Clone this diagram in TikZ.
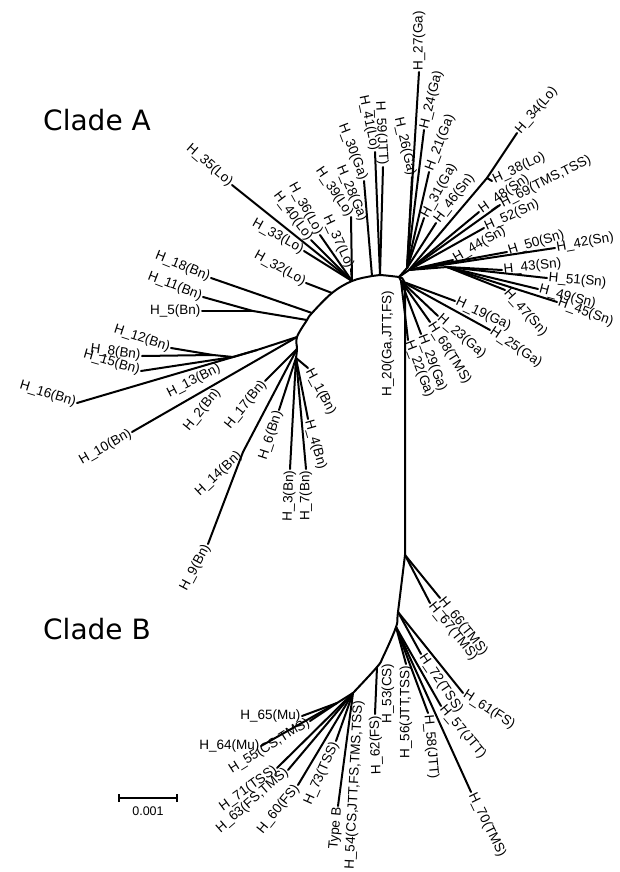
\documentclass[tikz,border=0pt]{standalone}
\usepackage{fontspec}
\setmainfont{Liberation Sans}
\newfontfamily\cladefont{DejaVu Sans}
\tikzset{
  branch/.style={line width=2pt, line cap=round, line join=round},
  leaf/.style={inner sep=1.5pt, font=\fontsize{13.5}{15}\selectfont},
  leafr/.style={leaf, anchor=west},
  leafl/.style={leaf, anchor=east},
  clade/.style={font=\cladefont\fontsize{28}{32}\selectfont},
}
\begin{document}
\begin{tikzpicture}[x=1pt, y=-1pt]
  \useasboundingbox (0,0) rectangle (619,872);
  % Clade names
  \node[clade] (cladeA) at (97,120) {Clade A};
  \node[clade] (cladeB) at (97,629) {Clade B};
  % Junctions, clade A
  \coordinate (r) at (399,277);
  \coordinate (rg) at (407,268);
  \coordinate (rs) at (409,270);
  \coordinate (rs2) at (447,267);
  \coordinate (rlo) at (487,178);
  \coordinate (rd) at (401,281);
  \coordinate (a3) at (380,275);
  \coordinate (a2) at (372,276);
  \coordinate (a1) at (352,281);
  \coordinate (a0) at (332,293);
  \coordinate (b18) at (312,313);
  \coordinate (b1) at (307,320);
  \coordinate (b2) at (297,337);
  \coordinate (b4) at (297,349);
  \coordinate (b5) at (296,358);
  \coordinate (jB1) at (253,311);
  \coordinate (jB3) at (257,350);
  \coordinate (jB3b) at (233,357);
  \coordinate (jB3a) at (213,355);
  \coordinate (jB6) at (243,452);
  % Junctions, clade B
  \coordinate (s1) at (405,290);
  \coordinate (jBa) at (405,555);
  \coordinate (jBb) at (398,612);
  \coordinate (jBc) at (396,627);
  \coordinate (jBd) at (383,657);
  \coordinate (jBg) at (377,667);
  \coordinate (jBe) at (353,693);
  \coordinate (jBf) at (337,703);
  % Leaves, clade A
  \node[leafr, rotate=90] (h27) at (419,72) {H\_27(Ga)};
  \node[leafr, rotate=76] (h24) at (424,130) {H\_24(Ga)};
  \node[leafr, rotate=69] (h21) at (429,172) {H\_21(Ga)};
  \node[leafl, rotate=-77] (h26) at (412,177) {H\_26(Ga)};
  \node[leafr, rotate=61] (h31) at (424,218) {H\_31(Ga)};
  \node[leafr, rotate=53] (h46) at (436,223) {H\_46(Sn)};
  \node[leafr, rotate=49] (h34) at (517,133) {H\_34(Lo)};
  \node[leafr, rotate=25] (h38) at (492,181) {H\_38(Lo)};
  \node[leafr, rotate=35] (h48) at (479,212) {H\_48(Sn)};
  \node[leafr, rotate=27] (h69) at (500,205) {H\_69(TMS,TSS)};
  \node[leafr, rotate=24] (h52) at (484,228) {H\_52(Sn)};
  \node[leafr, rotate=30] (h44) at (453,260) {H\_44(Sn)};
  \node[leafr, rotate=17] (h50) at (507,252) {H\_50(Sn)};
  \node[leafr, rotate=10] (h42) at (555,248) {H\_42(Sn)};
  \node[leafr, rotate=6] (h43) at (502,270) {H\_43(Sn)};
  \node[leafr, rotate=-5] (h51) at (547,278) {H\_51(Sn)};
  \node[leafr, rotate=-15] (h49) at (538,289) {H\_49(Sn)};
  \node[leafr, rotate=-20] (h45) at (557,302) {H\_45(Sn)};
  \node[leafr, rotate=-48] (h47) at (505,290) {H\_47(Sn)};
  \node[leafr, rotate=-25] (h19) at (455,301) {H\_19(Ga)};
  \node[leafr, rotate=-34] (h25) at (490,330) {H\_25(Ga)};
  \node[leafr, rotate=-41] (h23) at (438,316) {H\_23(Ga)};
  \node[leafr, rotate=-58] (h68) at (430,322) {H\_68(TMS)};
  \node[leafr, rotate=-69] (h29) at (421,334) {H\_29(Ga)};
  \node[leafr, rotate=-69] (h22) at (408,340) {H\_22(Ga)};
  \node[leafl, rotate=90] (h20) at (388,289) {H\_20(Ga,JTT,FS)};
  \node[leafl, rotate=-87] (h59) at (383,167) {H\_59(JTT)};
  \node[leafl, rotate=-78] (h41) at (375,152) {H\_41(Lo)};
  \node[leafl, rotate=-69] (h30) at (364,181) {H\_30(Ga)};
  \node[leafl, rotate=-67] (h28) at (364,222) {H\_28(Ga)};
  \node[leafl, rotate=-56] (h39) at (351,217) {H\_39(Lo)};
  \node[leafl, rotate=-65] (h37) at (351,269) {H\_37(Lo)};
  \node[leafl, rotate=-61] (h36) at (320,235) {H\_36(Lo)};
  \node[leafl, rotate=-53] (h40) at (311,240) {H\_40(Lo)};
  \node[leafl, rotate=-41] (h35) at (232,185) {H\_35(Lo)};
  \node[leafl, rotate=-29] (h33) at (304,251) {H\_33(Lo)};
  \node[leafl, rotate=-29] (h32) at (306,283) {H\_32(Lo)};
  \node[leafl, rotate=-22] (h18) at (211,278) {H\_18(Bn)};
  \node[leafl, rotate=-21] (h11) at (203,297) {H\_11(Bn)};
  \node[leafl] (h5) at (202,311) {H\_5(Bn)};
  \node[leafl, rotate=-18] (h12) at (171,348) {H\_12(Bn)};
  \node[leafl, rotate=-8] (h8) at (142,356) {H\_8(Bn)};
  \node[leafl, rotate=-16] (h15) at (141,371) {H\_15(Bn)};
  \node[leafl, rotate=-17] (h16) at (77,403) {H\_16(Bn)};
  \node[leafl, rotate=30] (h10) at (132,432) {H\_10(Bn)};
  \node[leafl, rotate=27] (h13) at (221,367) {H\_13(Bn)};
  \node[leafl, rotate=51] (h2) at (219,389) {H\_2(Bn)};
  \node[leafl, rotate=51] (h17) at (265,381) {H\_17(Bn)};
  \node[leafl, rotate=43] (h14) at (241,453) {H\_14(Bn)};
  \node[leafl, rotate=62] (h9) at (208,544) {H\_9(Bn)};
  \node[leafl, rotate=72] (h6) at (279,410) {H\_6(Bn)};
  \node[leafl, rotate=88] (h3) at (290,469) {H\_3(Bn)};
  \node[leafl, rotate=90] (h7) at (306,469) {H\_7(Bn)};
  \node[leafr, rotate=-74] (h4) at (308,419) {H\_4(Bn)};
  \node[leafr, rotate=-62] (h1) at (308,368) {H\_1(Bn)};
  % Leaves, clade B
  \node[leafr, rotate=-51] (h66) at (440,598) {H\_66(TMS)};
  \node[leafr, rotate=-51] (h67) at (430,603) {H\_67(TMS)};
  \node[leafr, rotate=-56] (h72) at (421,654) {H\_72(TSS)};
  \node[leafr, rotate=-33] (h61) at (463,693) {H\_61(FS)};
  \node[leafl, rotate=90] (h56) at (406,664) {H\_56(JTT,TSS)};
  \node[leafr, rotate=-85] (h58) at (428,713) {H\_58(JTT)};
  \node[leafr, rotate=-50] (h57) at (441,706) {H\_57(JTT)};
  \node[leafr, rotate=-64] (h70) at (471,792) {H\_70(TMS)};
  \node[leafl, rotate=90] (h53) at (388,662) {H\_53(CS)};
  \node[leafl, rotate=92] (h62) at (375,714) {H\_62(FS)};
  \node[leafl, rotate=85] (hB) at (338,806) {Type B};
  \node[leafl, rotate=87] (h54) at (359,699) {H\_54(CS,JTT,FS,TMS,TSS)};
  \node[leafl, rotate=66] (h73) at (336,741) {H\_73(TSS)};
  \node[leafl, rotate=51] (h60) at (298,785) {H\_60(FS)};
  \node[leafl, rotate=41] (h63) at (288,770) {H\_63(FS,TMS)};
  \node[leafl, rotate=36] (h71) at (277,768) {H\_71(TSS)};
  \node[leafl, rotate=32] (h55) at (310,721) {H\_55(CS,TMS)};
  \node[leafl] (h64) at (261,746) {H\_64(Mu)};
  \node[leafl] (h65) at (302,716) {H\_65(Mu)};
  % Backbone
  \draw[branch] plot[smooth, tension=0.6] coordinates {(r) (a3) (a2) (a1) (a0) (b18) (b1) (b2) (b4) (b5)};
  \draw[branch] (r) to[out=0, in=90] (s1) -- (jBa);
  \draw[branch] plot[smooth, tension=0.6] coordinates {(jBa) (jBb) (jBc) (jBd) (jBg) (jBe)};
  \draw[branch] (r) -- (rg);
  \draw[branch] (r) -- (rs) -- (rs2);
  \draw[branch] (r) -- (rd);
  \draw[branch] (rs) -- (rlo);
  \draw[branch] (b1) -- (jB1);
  \draw[branch] (b2) -- (jB3) -- (jB3b) -- (jB3a);
  \draw[branch] (b4) -- (jB6);
  \draw[branch] (jBe) -- (jBf);
  % Branches to leaves
  \foreach \h in {h27,h24,h21,h31,h46} \draw[branch] (rg) -- (\h.west);
  \draw[branch] (rg) -- (h26.east);
  \foreach \h in {h34,h38} \draw[branch] (rlo) -- (\h.west);
  \foreach \h in {h48,h69,h52,h44,h50,h42} \draw[branch] (rs) -- (\h.west);
  \foreach \h in {h43,h51,h49,h45,h47} \draw[branch] (rs2) -- (\h.west);
  \foreach \h in {h19,h25,h23,h68,h29,h22} \draw[branch] (rd) -- (\h.west);
  \foreach \h in {h59,h41} \draw[branch] (a3) -- (\h.east);
  \draw[branch] (a2) -- (h30.east);
  \foreach \h in {h39,h37,h36,h40,h35,h33} \draw[branch] (a1) -- (\h.east);
  \draw[branch] (a0) -- (h32.east);
  \draw[branch] (b18) -- (h18.east);
  \foreach \h in {h11,h5} \draw[branch] (jB1) -- (\h.east);
  \foreach \h in {h12,h8} \draw[branch] (jB3a) -- (\h.east);
  \draw[branch] (jB3b) -- (h15.east);
  \draw[branch] (jB3) -- (h16.east);
  \draw[branch] (b2) -- (h10.east);
  \draw[branch] (b4) -- (h17.east);
  \draw[branch] (jB6) -- (h9.east);
  \foreach \h in {h6,h3,h7} \draw[branch] (b5) -- (\h.east);
  \foreach \h in {h4,h1} \draw[branch] (b5) -- (\h.west);
  \foreach \h in {h66,h67} \draw[branch] (jBa) -- (\h.west);
  \foreach \h in {h72,h61} \draw[branch] (jBb) -- (\h.west);
  \draw[branch] (jBc) -- (h56.east);
  \foreach \h in {h58,h57,h70} \draw[branch] (jBc) -- (\h.west);
  \draw[branch] (jBg) -- (h62.east);
  \foreach \h in {hB,h73,h60,h63,h71} \draw[branch] (jBe) -- (\h.east);
  \foreach \h in {h55,h64,h65} \draw[branch] (jBf) -- (\h.east);
  % Scale bar
  \coordinate (sbl) at (119,798);
  \coordinate (sbr) at (177,798);
  \draw[branch, line cap=butt] (sbl) -- (sbr);
  \draw[branch, line cap=butt] ([yshift=-4pt]sbl) -- ([yshift=4pt]sbl);
  \draw[branch, line cap=butt] ([yshift=-4pt]sbr) -- ([yshift=4pt]sbr);
  \node[font=\fontsize{12.5}{14}\selectfont] (sbt) at (148,811) {0.001};
\end{tikzpicture}
\end{document}
